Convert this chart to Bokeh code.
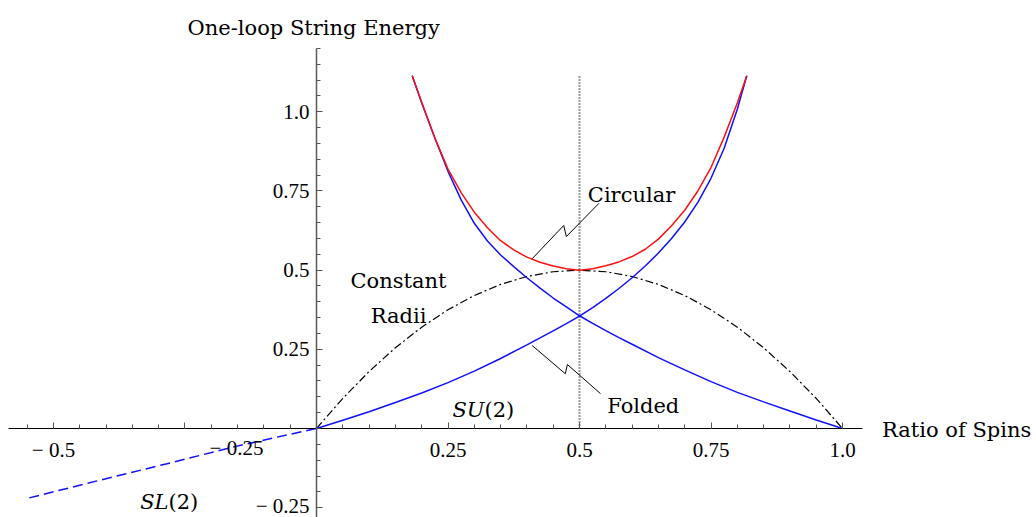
from bokeh.plotting import figure
from bokeh.models import LinearAxis, FixedTicker
from bokeh.core.properties import value
from bokeh.embed import file_html
from bokeh.resources import INLINE

# ---------------- data ----------------
circular_x = [0.182, 0.200, 0.225, 0.250, 0.275, 0.300, 0.325, 0.350, 0.375, 0.400, 0.425,
              0.450, 0.475, 0.500, 0.525, 0.550, 0.575, 0.600, 0.625, 0.650, 0.675, 0.700,
              0.725, 0.750, 0.775, 0.800, 0.818]
circular_y = [1.114, 1.030, 0.917, 0.819, 0.745, 0.683, 0.634, 0.593, 0.564, 0.541, 0.525,
              0.513, 0.5045, 0.500, 0.5045, 0.514, 0.526, 0.543, 0.566, 0.598, 0.640, 0.689,
              0.750, 0.824, 0.920, 1.028, 1.114]

folded_x = [0.182, 0.200, 0.225, 0.250, 0.275, 0.300, 0.325, 0.350, 0.375, 0.400, 0.425,
            0.450, 0.475, 0.500, 0.525, 0.550, 0.575, 0.600, 0.650, 0.700, 0.750, 0.800,
            0.850, 0.900, 0.950, 1.000]
folded_y = [1.114, 1.028, 0.917, 0.812, 0.722, 0.648, 0.592, 0.548, 0.511, 0.476, 0.443,
            0.412, 0.384, 0.356, 0.332, 0.309, 0.287, 0.266, 0.224, 0.185, 0.148, 0.114,
            0.084, 0.055, 0.027, 0.000]

su2_x = [0.000, 0.050, 0.100, 0.150, 0.200, 0.250, 0.300, 0.350, 0.400, 0.425, 0.450,
         0.475, 0.500, 0.525, 0.550, 0.575, 0.600, 0.625, 0.650, 0.675, 0.700, 0.725,
         0.750, 0.775, 0.800, 0.818]
su2_y = [0.000, 0.026, 0.053, 0.082, 0.112, 0.145, 0.181, 0.221, 0.264, 0.286, 0.308,
         0.331, 0.355, 0.382, 0.411, 0.442, 0.476, 0.513, 0.554, 0.600, 0.652, 0.714,
         0.790, 0.885, 1.008, 1.114]

sl2_x = [-0.546, -0.411, -0.284, -0.157, -0.080, 0.000]
sl2_y = [-0.219, -0.163, -0.111, -0.058, -0.029, 0.000]

radii_x = [0.00, 0.05, 0.10, 0.15, 0.20, 0.25, 0.30, 0.35, 0.40, 0.45, 0.50,
           0.55, 0.60, 0.65, 0.70, 0.75, 0.80, 0.85, 0.90, 0.95, 1.00]
radii_y = [0.000, 0.095, 0.180, 0.255, 0.320, 0.375, 0.420, 0.455, 0.480, 0.495, 0.500,
           0.495, 0.480, 0.455, 0.420, 0.375, 0.320, 0.255, 0.180, 0.095, 0.000]

half_x = [0.5, 0.5]
half_y = [0.0, 1.114]

x_major_ticks = [-0.5, -0.25, 0.25, 0.5, 0.75, 1.0]
x_tick_labels = ["\u2212 0.5", "\u2212 0.25", "0.25", "0.5", "0.75", "1.0"]
y_major_ticks = [-0.25, 0.25, 0.5, 0.75, 1.0]
y_tick_labels = ["\u2212 0.25", "0.25", "0.5", "0.75", "1.0"]
x_minor_ticks = [round(-0.55 + 0.05 * i, 2) for i in range(32)]
y_minor_ticks = [round(-0.25 + 0.05 * i, 2) for i in range(30)]

WORD_FONT = "DejaVu Serif"
NUM_FONT = "Liberation Serif"

X0, X1 = -0.60076, 1.36882
Y0, Y1 = -0.28102, 1.35144

p = figure(width=1036, height=517, x_range=(X0, X1), y_range=(Y0, Y1),
           output_backend="svg", toolbar_location=None,
           x_axis_location=None, y_axis_location=None,
           min_border=0, outline_line_color=None,
           background_fill_color="white", border_fill_color="white")
p.grid.visible = False

xaxis = LinearAxis(fixed_location=0, bounds=(-0.5856, 1.038),
                   ticker=FixedTicker(ticks=x_major_ticks, minor_ticks=x_minor_ticks))
xaxis.major_label_overrides = {t: (l if t != -0.25 else "") for t, l in zip(x_major_ticks, x_tick_labels)}
xaxis.axis_line_color = "black"
xaxis.axis_line_width = 1
xaxis.major_tick_in = 6
xaxis.major_tick_out = 0
xaxis.minor_tick_in = 4
xaxis.minor_tick_out = 0
xaxis.major_tick_line_color = "#555555"
xaxis.minor_tick_line_color = "#555555"
xaxis.major_label_text_font = NUM_FONT
xaxis.major_label_text_font_size = "21px"
xaxis.major_label_text_color = "black"
xaxis.major_label_standoff = 9
p.add_layout(xaxis, "below")

yaxis = LinearAxis(fixed_location=0, bounds=(Y0, 1.2),
                   ticker=FixedTicker(ticks=y_major_ticks, minor_ticks=y_minor_ticks))
yaxis.major_label_overrides = {t: l for t, l in zip(y_major_ticks, y_tick_labels)}
yaxis.axis_line_color = "#5a5a5a"
yaxis.axis_line_width = 1.5
yaxis.major_tick_in = 6
yaxis.major_tick_out = 0
yaxis.minor_tick_in = 4
yaxis.minor_tick_out = 0
yaxis.major_tick_line_color = "#555555"
yaxis.minor_tick_line_color = "#555555"
yaxis.major_label_text_font = NUM_FONT
yaxis.major_label_text_font_size = "21px"
yaxis.major_label_text_color = "black"
yaxis.major_label_standoff = 7
p.add_layout(yaxis, "left")

# curves
p.line(half_x, half_y, line_color="#333333", line_width=2, line_dash="1 2")
p.line(radii_x, radii_y, line_color="black", line_width=1.2, line_dash="8 3 2 3")
p.line(sl2_x, sl2_y, line_color="#1010ff", line_width=1.5, line_dash="10 5")
p.line(su2_x, su2_y, line_color="#1010ff", line_width=1.5)
p.line(folded_x, folded_y, line_color="#1010ff", line_width=1.5)
p.line(circular_x, circular_y, line_color="#ff1010", line_width=1.5)

# pointer zigzags
p.line([0.410, 0.470, 0.475, 0.537], [0.536, 0.641, 0.606, 0.711], line_color="black", line_width=1)
p.line([0.410, 0.473, 0.477, 0.540], [0.262, 0.173, 0.202, 0.110], line_color="black", line_width=1)

def txt(x, y, s, align="left", font=WORD_FONT, style="normal", size="21px"):
    p.text(x=[x], y=[y], text=[s], text_font=value(font), text_font_size=size,
           text_font_style=style, text_align=align, text_baseline="alphabetic",
           text_color="black")

txt(-0.2452, 1.2652, "One-loop String Energy")
txt(1.0751, -0.0032, "Ratio of Spins")
txt(0.5158, 0.7379, "Circular")
txt(0.5527, 0.0726, "Folded")
txt(0.1559, 0.4651, "Constant", align="center")
txt(0.1559, 0.3568, "Radii", align="center")
txt(0.3194, 0.0590, "SU", align="right", style="italic")
txt(0.3194, 0.0590, "(2)", align="left")
txt(-0.2814, -0.2327, "SL", align="right", style="italic")
txt(-0.2814, -0.2327, "(2)", align="left")
txt(-0.1521, -0.0600, x_tick_labels[1], align="center", font=NUM_FONT)

open("out.html", "w").write(file_html(p, INLINE))
